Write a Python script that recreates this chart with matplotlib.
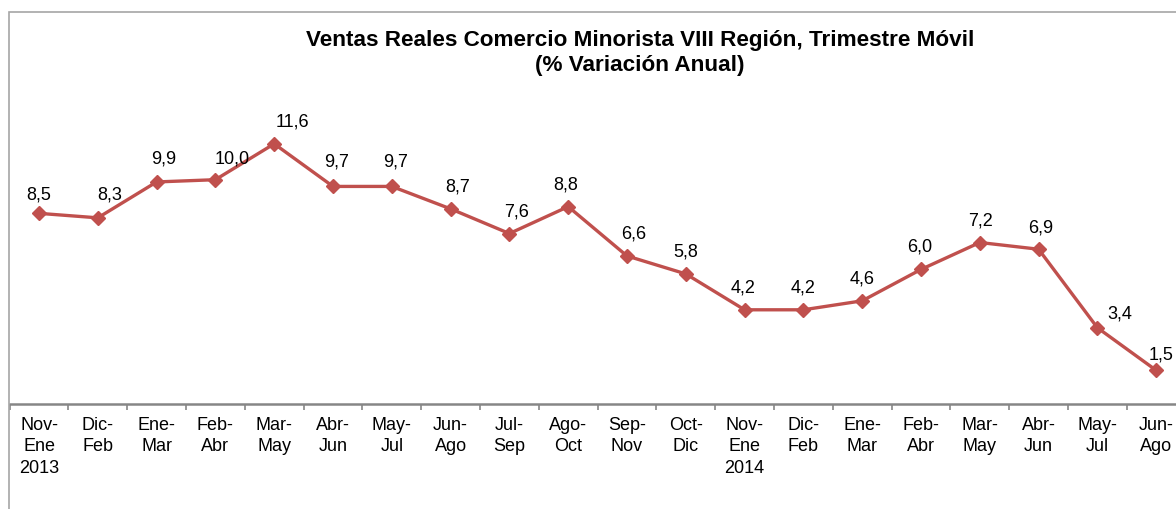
import matplotlib
matplotlib.use("Agg")
import matplotlib.pyplot as plt
from matplotlib.patches import Rectangle
import numpy as np

categories = ["Nov-\nEne\n2013", "Dic-\nFeb", "Ene-\nMar", "Feb-\nAbr", "Mar-\nMay",
              "Abr-\nJun", "May-\nJul", "Jun-\nAgo", "Jul-\nSep", "Ago-\nOct",
              "Sep-\nNov", "Oct-\nDic", "Nov-\nEne\n2014", "Dic-\nFeb", "Ene-\nMar",
              "Feb-\nAbr", "Mar-\nMay", "Abr-\nJun", "May-\nJul", "Jun-\nAgo"]
values = [8.5, 8.3, 9.9, 10.0, 11.6, 9.7, 9.7, 8.7, 7.6, 8.8,
          6.6, 5.8, 4.2, 4.2, 4.6, 6.0, 7.2, 6.9, 3.4, 1.5]

# label offsets in pixels (dx, dy) - style only
label_dx = [0, 12, 7, 17, 18, 4, 4, 7, 7, -3, 7, 0, -2, 0, 0, -1, 1, 2, 22, 5]
label_dy = [18, 23, 23, 21, 22, 24, 24, 22, 22, 22, 22, 22, 22, 22, 22, 22, 22, 21, 14, 15]

plt.rcParams['font.family'] = ['Liberation Sans', 'DejaVu Sans']

W, H = 1176, 509
fig = plt.figure(figsize=(W / 100, H / 100), dpi=100)

# outer chart border
fig.patches.append(Rectangle((9 / W, -0.1), 1.2, (H - 12) / H + 0.1,
                             transform=fig.transFigure, fill=False,
                             edgecolor="#a6a6a6", linewidth=1.2))

ymax = 14
px_per_unit = 22.43
ax_bottom_px = 404
ax_left_px = 9.6
ax_w_px = 20 * 58.8
ax = fig.add_axes([ax_left_px / W, (H - ax_bottom_px) / H, ax_w_px / W, ymax * px_per_unit / H])
ax.set_xlim(-0.5, len(values) - 0.5)
ax.set_ylim(0, ymax)
ax.patch.set_alpha(0)

x = np.arange(len(values))
ax.plot(x, values, color="#C0504D", linewidth=2.4, marker="D", markersize=7, zorder=3)

for i, v in enumerate(values):
    ax.annotate(f"{v:.1f}".replace(".", ","), (i, v),
                xytext=(label_dx[i] * 0.72, label_dy[i] * 0.72), textcoords="offset points",
                ha="center", va="center", fontsize=13, color="black")

for s in ["top", "right", "left"]:
    ax.spines[s].set_visible(False)
ax.spines["bottom"].set_color("#868686")
ax.spines["bottom"].set_linewidth(1.8)
ax.set_yticks([])

ax.set_xticks(np.arange(-0.5, len(values), 1.0))
ax.set_xticklabels([])
ax.tick_params(axis="x", which="major", direction="out", length=4, width=1.2, color="#868686")
ax.set_xticks(x, minor=True)
ax.set_xticklabels(categories, minor=True, fontsize=13, linespacing=1.38)
ax.tick_params(axis="x", which="minor", length=0, pad=9)

fig.text(640 / W, 1 - 53 / H, "Ventas Reales Comercio Minorista VIII Región, Trimestre Móvil\n(% Variación Anual)",
         ha="center", va="center", fontsize=16.2, fontweight="bold", linespacing=1.2)

fig.savefig("out.png", dpi=100)
